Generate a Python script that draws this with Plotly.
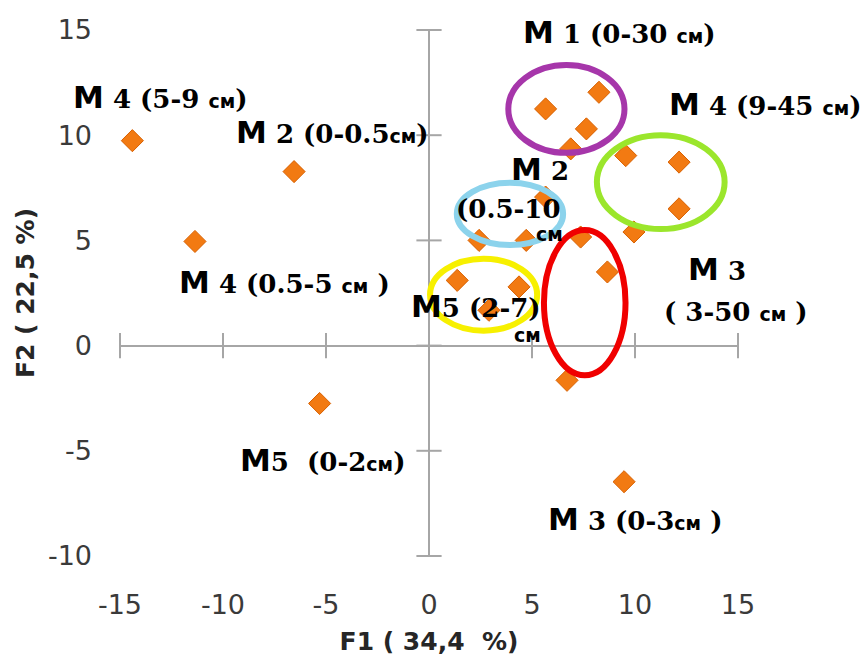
import re
import plotly.graph_objects as go

# ---- data ----
f1 = [-14.4, -11.36, -6.55, -5.31, 1.37, 2.91, 4.37, 2.43, 4.72, 5.66, 7.36,
      6.88, 5.66, 7.64, 8.25, 9.55, 12.14, 12.14, 9.95, 8.66, 6.7, 9.47]
f2 = [9.74, 4.95, 8.27, -2.75, 3.1, 1.68, 2.79, 5.0, 5.0, 7.06, 5.16,
      9.35, 11.25, 10.3, 12.04, 9.03, 8.72, 6.5, 5.4, 3.5, -1.65, -6.47]

x_ticks = [-15, -10, -5, 0, 5, 10, 15]
y_ticks = [-10, -5, 0, 5, 10, 15]

x_title = "F1 ( 34,4  %)"
y_title = "F2 ( 22,5 %)"

label_texts = [
    "М 1 (0-30 см)",
    "М 4 (9-45 см)",
    "М 2",
    "(0.5-10",
    "см",
    "М 3",
    "( 3-50 см )",
    "М5 (2-7)",
    "см",
    "М 4 (5-9 см)",
    "М 2 (0-0.5см)",
    "М 4 (0.5-5 см )",
    "М5  (0-2см)",
    "М 3 (0-3см )",
]

# ---- layout of labels (anchor x, middle y, in data units) ----
label_pos = [
    (4.45, 14.9, "left"),
    (11.55, 11.49, "left"),
    (3.88, 8.40, "left"),
    (1.21, 6.50, "left"),
    (5.87, 5.30, "center"),
    (12.48, 3.65, "left"),
    (11.31, 1.61, "left"),
    (-0.97, 1.90, "left"),
    (4.76, 0.50, "center"),
    (-17.38, 11.82, "left"),
    (-9.47, 10.16, "left"),
    (-12.23, 3.04, "left"),
    (-9.27, -5.46, "left"),
    (5.68, -8.26, "left"),
]

# highlight ellipses: (cx, cy, rx, ry, colour, width)
ellipses = [
    (6.67, 11.25, 2.82, 2.09, "#A636AA", 6),
    (11.25, 7.77, 3.10, 2.23, "#9BE62C", 6),
    (3.93, 6.26, 2.58, 1.48, "#8CD3EC", 6),
    (2.65, 2.42, 2.60, 1.71, "#F7F000", 6),
    (7.56, 2.04, 1.98, 3.45, "#F00000", 6),
]

AX = "#A6A6A6"
X_RANGE = [-15, 15]
Y_RANGE = [-10, 15]


def rich(s):
    parts = re.split(r"(М|см)", s)
    out = []
    for p in parts:
        if p == "":
            continue
        if p == "М":
            out.append('<span style="font-family:DejaVu Sans;font-size:31px">М</span>')
        elif p == "см":
            out.append('<span style="font-family:DejaVu Sans;font-size:19px">см</span>')
        else:
            out.append(p)
    return "".join(out)


def to_paper_x(v):
    return (v - X_RANGE[0]) / (X_RANGE[1] - X_RANGE[0])


fig = go.Figure()

# tick marks crossing the axis lines
fig.add_trace(go.Scatter(
    x=x_ticks, y=[0] * len(x_ticks), mode="markers", cliponaxis=False,
    marker=dict(symbol="line-ns", size=18, line=dict(color=AX, width=2)),
    hoverinfo="skip", showlegend=False))
fig.add_trace(go.Scatter(
    x=[0] * len(y_ticks), y=y_ticks, mode="markers", cliponaxis=False,
    marker=dict(symbol="line-ew", size=18, line=dict(color=AX, width=2)),
    hoverinfo="skip", showlegend=False))

fig.add_trace(go.Scatter(
    x=f1, y=f2, mode="markers", cliponaxis=False,
    marker=dict(symbol="diamond", size=17, color="#F27A12",
                line=dict(color="#D86000", width=1)),
    showlegend=False))

for cx, cy, rx, ry, col, w in ellipses:
    fig.add_shape(type="circle", xref="x", yref="y",
                  x0=cx - rx, x1=cx + rx, y0=cy - ry, y1=cy + ry,
                  line=dict(color=col, width=w), layer="above")

for txt, (lx, ly, anc) in zip(label_texts, label_pos):
    fig.add_annotation(x=to_paper_x(lx), y=ly, xref="paper", yref="y",
                       text=rich(txt),
                       showarrow=False, xanchor=anc, yanchor="middle",
                       font=dict(family="DejaVu Serif", size=26, color="black",
                                 weight="bold"))

tick_font = dict(family="DejaVu Sans", size=27, color="#3A3A3A")
title_font = dict(family="DejaVu Sans", size=25, color="#262626", weight="bold")

fig.update_layout(
    width=861, height=656,
    margin=dict(l=120, r=123, t=30, b=100),
    paper_bgcolor="white", plot_bgcolor="white",
    showlegend=False,
    xaxis=dict(range=X_RANGE, tickvals=x_ticks, automargin=False,
               ticktext=[str(v) for v in x_ticks], showgrid=False,
               zeroline=True, zerolinecolor=AX, zerolinewidth=2,
               showline=False, ticks="", ticklabelstandoff=30,
               tickfont=tick_font,
               title=dict(text=x_title, standoff=18, font=title_font)),
    yaxis=dict(range=Y_RANGE, tickvals=y_ticks, automargin=False,
               ticktext=[str(v) for v in y_ticks], showgrid=False,
               zeroline=True, zerolinecolor=AX, zerolinewidth=2,
               showline=False, ticks="", ticklabelstandoff=27,
               tickfont=tick_font,
               title=dict(text=y_title, standoff=6, font=title_font)),
)

fig.write_html("out.html")
